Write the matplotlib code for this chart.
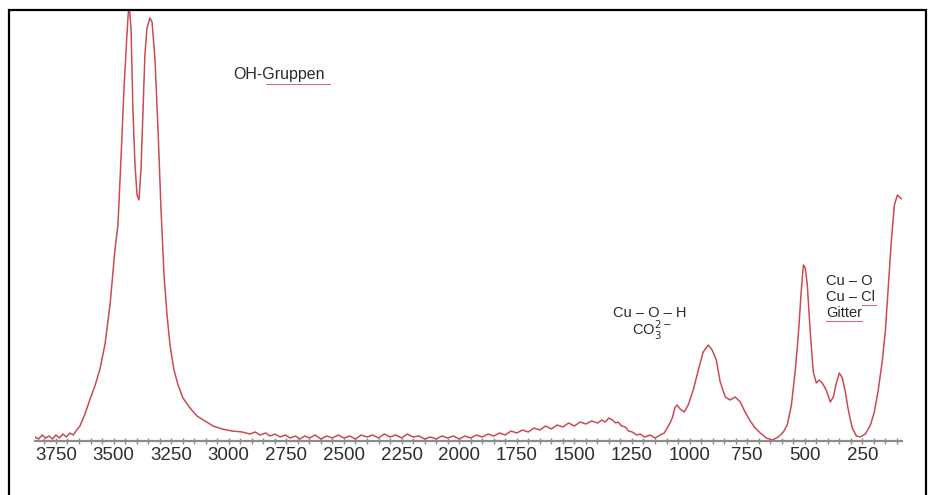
import matplotlib
matplotlib.use('Agg')
from matplotlib import pyplot as plt
from matplotlib.patches import Rectangle
from matplotlib.lines import Line2D
from matplotlib.ticker import MultipleLocator
import numpy as np

# wavenumber (cm-1)
wavenumber = [3841, 3825, 3810, 3795, 3780, 3765, 3750, 3735, 3720, 3705, 3690, 3675,
              3660, 3646, 3624, 3602, 3581, 3559, 3537, 3515, 3494, 3481, 3468, 3455,
              3442, 3433, 3424, 3416, 3407, 3398, 3390, 3381, 3372, 3364, 3355, 3342,
              3333, 3320, 3307, 3294, 3281, 3268, 3255, 3238, 3220, 3199, 3168, 3138,
              3103, 3068, 3029, 2986, 2942, 2908, 2885, 2864, 2840, 2821, 2800, 2777,
              2755, 2734, 2710, 2691, 2670, 2650, 2625, 2600, 2575, 2550, 2525, 2500,
              2475, 2450, 2425, 2400, 2375, 2350, 2325, 2300, 2275, 2250, 2225, 2200,
              2175, 2150, 2125, 2100, 2075, 2050, 2025, 2000, 1975, 1950, 1925, 1900,
              1875, 1850, 1825, 1800, 1775, 1750, 1725, 1700, 1675, 1650, 1625, 1600,
              1575, 1550, 1525, 1500, 1475, 1450, 1425, 1400, 1380, 1366, 1350, 1335,
              1320, 1310, 1295, 1279, 1265, 1249, 1230, 1214, 1195, 1171, 1150, 1127,
              1110, 1097, 1085, 1075, 1064, 1054, 1041, 1023, 1006, 984, 962, 941,
              919, 902, 884, 867, 845, 824, 802, 780, 759, 737, 715, 693,
              667, 641, 615, 593, 576, 558, 541, 528, 515, 506, 498, 489,
              476, 463, 450, 437, 424, 407, 389, 376, 363, 350, 337, 324,
              311, 294, 276, 259, 237, 215, 198, 181, 163, 150, 137, 124,
              111, 98, 85, 77]

# intensity (arbitrary units)
intensity = [4, 2, 6, 3, 5, 2, 6, 3, 7, 4, 8, 6,
             11, 15, 27, 42, 55, 72, 97, 137, 191, 216, 281, 351,
             406, 440, 411, 331, 276, 246, 241, 271, 331, 386, 413, 423,
             419, 381, 311, 231, 166, 126, 96, 71, 56, 43, 33, 25,
             20, 15, 12, 10, 9, 7, 9, 6, 8, 5, 7, 4,
             6, 3, 5, 2, 5, 3, 6, 2, 5, 3, 6, 3,
             5, 2, 6, 4, 6, 3, 7, 4, 6, 3, 7, 4,
             5, 2, 4, 2, 5, 3, 5, 2, 5, 3, 6, 4,
             7, 5, 8, 6, 10, 8, 11, 9, 13, 11, 15, 12,
             16, 14, 18, 15, 19, 17, 20, 18, 21, 19, 23, 21,
             18, 19, 15, 14, 10, 9, 6, 7, 4, 6, 3, 6,
             8, 13, 18, 23, 33, 36, 32, 29, 36, 51, 71, 89,
             96, 91, 81, 59, 44, 41, 44, 39, 29, 20, 13, 8,
             3, 1, 4, 9, 16, 36, 71, 106, 151, 176, 173, 156,
             108, 69, 58, 61, 58, 51, 39, 44, 58, 68, 63, 49,
             31, 13, 5, 4, 7, 16, 29, 51, 81, 111, 156, 201,
             236, 246, 243, 242]

tick_values = [3750, 3500, 3250, 3000, 2750, 2500, 2250, 2000, 1750, 1500, 1250, 1000, 750, 500, 250]

W, H = 930, 495
fig = plt.figure(figsize=(W / 100, H / 100), dpi=100)
fig.patch.set_facecolor('white')

# axes placed in pixel terms
left, right, top, bottom = 35, 902, 10, 441
ax = fig.add_axes([left / W, 1 - bottom / H, (right - left) / W, (bottom - top) / H])
ax.plot(wavenumber, intensity, color='#d9505c', lw=1.1)
ax.plot(wavenumber, intensity, color='#8a3a40', lw=0.3, alpha=0.5)

ax.set_xlim(3841, 78)
ax.set_ylim(0, 431)
ax.set_xticks(tick_values)
ax.xaxis.set_minor_locator(MultipleLocator(50))
ax.set_yticks([])
for s in ['top', 'left', 'right']:
    ax.spines[s].set_visible(False)
ax.spines['bottom'].set_color('#8c8c8c')
ax.spines['bottom'].set_linewidth(1.6)
ax.tick_params(axis='x', which='both', direction='inout', color='#8c8c8c',
               length=4, width=1.0, pad=2)
ax.tick_params(axis='x', which='major', labelsize=13.5, labelcolor='#2e2e2e')
for lab in ax.get_xticklabels():
    lab.set_family('Liberation Sans')
ax.patch.set_alpha(0)

# labels
tkw = dict(family='Liberation Sans', fontsize=10.5, color='#2a2a2a')
fig.text(233 / W, 1 - 75 / H, 'OH-Gruppen', ha='left', va='center',
         family='Liberation Sans', fontsize=11.5, color='#2a2a2a')
fig.text(650 / W, 1 - 313 / H, 'Cu – O – H', ha='center', va='center', **tkw)
fig.text(652 / W, 1 - 330 / H, r'CO$_3^{2-}$', ha='center', va='center', **tkw)
fig.text(826 / W, 1 - 281 / H, 'Cu – O', ha='left', va='center', **tkw)
fig.text(826 / W, 1 - 297 / H, 'Cu – Cl', ha='left', va='center', **tkw)
fig.text(826 / W, 1 - 313 / H, 'Gitter', ha='left', va='center', **tkw)

# spell-check underlines
for x0, x1, y in [(266, 330, 84), (862, 876, 305), (826, 862, 321)]:
    fig.add_artist(Line2D([x0 / W, x1 / W], [1 - y / H, 1 - y / H],
                          color='#d06070', lw=0.7, transform=fig.transFigure))

# outer frame (bottom edge outside the image)
fig.add_artist(Rectangle((9 / W, -0.05), (926 - 9) / W, 1.05 - 10 / H,
                         transform=fig.transFigure, fill=False,
                         edgecolor='black', lw=1.6))

fig.savefig('out.png', dpi=100)
